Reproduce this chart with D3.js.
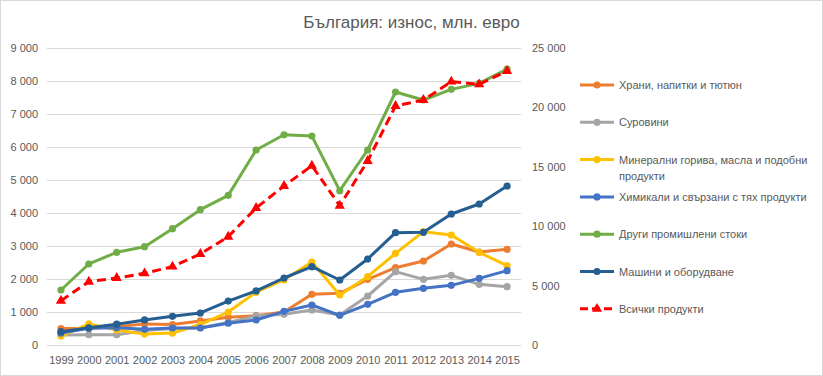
<!DOCTYPE html>
<html>
<head>
<meta charset="utf-8">
<script src="https://cdn.jsdelivr.net/npm/d3@7"></script>
<style>
  body { margin: 0; background: #fff; }
  text { font-family: "Liberation Sans", Arial, sans-serif; fill: #595959; }
</style>
</head>
<body>
<svg width="823" height="376"></svg>
<script>
const titleText = 'България: износ, млн. евро';

const years = ['1999','2000','2001','2002','2003','2004','2005','2006','2007','2008','2009','2010','2011','2012','2013','2014','2015'];

const seriesNames = [
  'Храни, напитки и тютюн',
  'Суровини',
  'Минерални горива, масла и подобни продукти',
  'Химикали и свързани с тях продукти',
  'Други промишлени стоки',
  'Машини и оборудване',
  'Всички продукти'
];

const food      = [500, 505, 556, 640, 620, 730, 838, 890, 1000, 1535, 1566, 1990, 2343, 2545, 3061, 2818, 2899];
const raw       = [300, 310, 310, 440, 500, 525, 680, 880, 930, 1061, 909, 1485, 2222, 1990, 2111, 1838, 1768];
const fuels     = [270, 640, 455, 330, 360, 620, 1000, 1600, 1980, 2515, 1515, 2071, 2778, 3434, 3333, 2808, 2404];
const chemicals = [360, 505, 520, 475, 515, 515, 660, 758, 1020, 1212, 899, 1232, 1596, 1717, 1808, 2020, 2253];
const otherGoods = [1667, 2455, 2809, 2980, 3525, 4101, 4535, 5909, 6370, 6330, 4677, 5909, 7667, 7424, 7747, 7929, 8360];
const machinery = [403, 520, 630, 760, 870, 970, 1330, 1640, 2030, 2374, 1970, 2606, 3404, 3414, 3970, 4273, 4818];
const total     = [3729, 5329, 5640, 6035, 6593, 7660, 9117, 11533, 13385, 15093, 11727, 15489, 20119, 20624, 22165, 21943, 23065];

const leftTicks = [0, 1000, 2000, 3000, 4000, 5000, 6000, 7000, 8000, 9000];
const rightTicks = [0, 5000, 10000, 15000, 20000, 25000];

const colors = ['#ED7D31', '#A5A5A5', '#FFC000', '#4472C4', '#70AD47', '#255E91', '#FF0000'];

const svg = d3.select('svg');
const width = +svg.attr('width');
const height = +svg.attr('height');

// chart border
svg.append('rect')
  .attr('x', 0.5).attr('y', 0.5)
  .attr('width', width - 1).attr('height', height - 1)
  .attr('fill', '#fff')
  .attr('stroke', '#d9d9d9');

const plot = { left: 47, right: 521, top: 48, bottom: 345 };

const xScale = d3.scalePoint()
  .domain(years)
  .range([plot.left, plot.right])
  .padding(0.5);

const yLeft = d3.scaleLinear()
  .domain([0, 9000])
  .range([plot.bottom, plot.top]);

const yRight = d3.scaleLinear()
  .domain([0, 25000])
  .range([plot.bottom, plot.top]);

const fmt = v => d3.format(',')(v).replace(/,/g, ' ');

// left axis with gridlines
const yAxisL = d3.axisLeft(yLeft)
  .tickValues(leftTicks)
  .tickSize(-(plot.right - plot.left))
  .tickPadding(9)
  .tickFormat(fmt);

const yAxisLG = svg.append('g')
  .attr('transform', `translate(${plot.left},0)`)
  .call(yAxisL);
yAxisLG.select('.domain').remove();
yAxisLG.selectAll('line').attr('stroke', '#d9d9d9');
yAxisLG.selectAll('text').attr('font-size', 11).attr('fill', '#595959');

// right axis, labels only
const yAxisR = d3.axisRight(yRight)
  .tickValues(rightTicks)
  .tickSize(0)
  .tickPadding(11)
  .tickFormat(fmt);

const yAxisRG = svg.append('g')
  .attr('transform', `translate(${plot.right},0)`)
  .call(yAxisR);
yAxisRG.select('.domain').remove();
yAxisRG.selectAll('text').attr('font-size', 11).attr('fill', '#595959');

// bottom axis, labels only
const xAxis = d3.axisBottom(xScale)
  .tickSize(0)
  .tickPadding(11);

const xAxisG = svg.append('g')
  .attr('transform', `translate(0,${plot.bottom})`)
  .call(xAxis);
xAxisG.select('.domain').remove();
xAxisG.selectAll('text').attr('font-size', 11).attr('fill', '#595959');

// series
const leftSeries = [food, raw, fuels, chemicals, otherGoods, machinery];

const lineLeft = d3.line()
  .x((d, i) => xScale(years[i]))
  .y(d => yLeft(d));

const lineRight = d3.line()
  .x((d, i) => xScale(years[i]))
  .y(d => yRight(d));

leftSeries.forEach((values, k) => {
  const g = svg.append('g');
  g.append('path')
    .datum(values)
    .attr('d', lineLeft)
    .attr('fill', 'none')
    .attr('stroke', colors[k])
    .attr('stroke-width', 3)
    .attr('stroke-linejoin', 'round');
  g.selectAll('circle').data(values)
    .enter().append('circle')
      .attr('cx', (d, i) => xScale(years[i]))
      .attr('cy', d => yLeft(d))
      .attr('r', 3.6)
      .attr('fill', colors[k]);
});

const tri = d3.symbol().type(d3.symbolTriangle).size(45);

const totalG = svg.append('g');
totalG.append('path')
  .datum(total)
  .attr('d', lineRight)
  .attr('fill', 'none')
  .attr('stroke', colors[6])
  .attr('stroke-width', 3)
  .attr('stroke-dasharray', '9,5');
totalG.selectAll('path.marker').data(total)
  .enter().append('path')
    .attr('class', 'marker')
    .attr('d', tri)
    .attr('transform', (d, i) => `translate(${xScale(years[i])},${yRight(d)})`)
    .attr('fill', colors[6]);

// legend
const legend = svg.append('g');
seriesNames.forEach((name, k) => {
  const y = 85 + k * 37.3;
  const item = legend.append('g').attr('transform', `translate(580,${y})`);
  item.append('line')
    .attr('x1', 0).attr('x2', 34)
    .attr('stroke', colors[k])
    .attr('stroke-width', 3)
    .attr('stroke-dasharray', k === 6 ? '8,4' : null);
  if (k === 6) {
    item.append('path')
      .attr('d', tri)
      .attr('transform', 'translate(17,0)')
      .attr('fill', colors[k]);
  } else {
    item.append('circle')
      .attr('cx', 17).attr('r', 3.6)
      .attr('fill', colors[k]);
  }
  const t = item.append('text')
    .attr('x', 39)
    .attr('y', 4)
    .attr('font-size', 11);
  if (k === 2) {
    t.append('tspan').attr('x', 39).text('Минерални горива, масла и подобни');
    t.append('tspan').attr('x', 39).attr('dy', 16).text('продукти');
  } else {
    t.text(name);
  }
});

// title
svg.append('text')
  .attr('x', width / 2)
  .attr('y', 28)
  .attr('text-anchor', 'middle')
  .attr('font-size', 17)
  .text(titleText);
</script>
</body>
</html>
